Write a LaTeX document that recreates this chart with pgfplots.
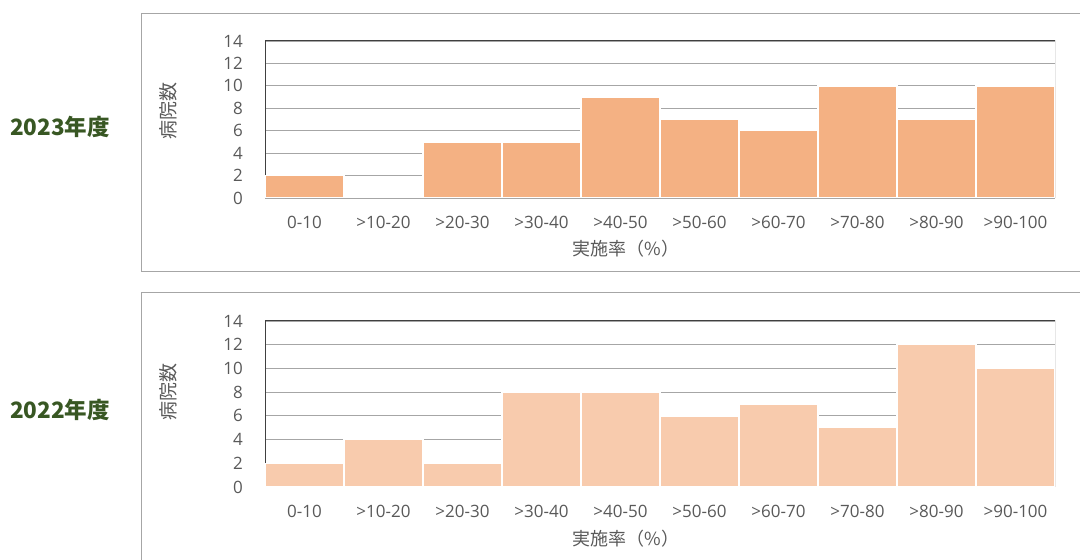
\documentclass[border=0pt]{standalone}
\usepackage{fontspec}
\setmainfont{Open Sans}
\newfontfamily\jp{Noto Sans CJK JP}
\usepackage{pgfplots}
\pgfplotsset{compat=1.18}
\definecolor{txt}{HTML}{595959}
\definecolor{barA}{HTML}{F4B183}
\definecolor{barB}{HTML}{F8CBAD}
\definecolor{grn}{HTML}{385723}
\definecolor{gridc}{HTML}{A6A6A6}
\definecolor{framec}{HTML}{404040}
\definecolor{basec}{HTML}{D9D9D9}
\definecolor{boxc}{HTML}{A6A6A6}
\pgfplotsset{
  hist/.style={
    scale only axis, width=790pt, anchor=south west,
    xmin=-0.5, xmax=9.5, ymin=0, ymax=14,
    ytick={0,2,...,14}, xtick={0,...,9},
    xticklabels={0-10,>10-20,>20-30,>30-40,>40-50,>50-60,>60-70,>70-80,>80-90,>90-100},
    axis line style={draw=none},
    major tick length=0pt,
    ymajorgrids, grid style={gridc, line width=0.8pt},
    /pgf/number format/assume math mode=true,
    ticklabel style={font=\fontsize{17}{19}\selectfont, text=txt},
    yticklabel style={anchor=east, inner sep=0pt, xshift=-22pt},
    xticklabel style={anchor=center, inner sep=0pt, yshift=-24pt},
    ybar, bar width=1, bar shift=0pt,
  }
}
\begin{document}
\begin{tikzpicture}
\useasboundingbox (0pt,0pt) rectangle (1080pt,560pt);
\draw[boxc, line width=1pt] (141pt,288pt) rectangle (1100pt,546pt);
\draw[boxc, line width=1pt] (141pt,-20pt) rectangle (1100pt,267pt);
\node[text=grn, font=\jp\bfseries\fontsize{22.5}{25}\selectfont] at (60pt,433pt) {2023年度};
\node[text=grn, font=\jp\bfseries\fontsize{22.5}{25}\selectfont] at (60pt,150pt) {2022年度};
\node[text=txt, font=\jp\fontsize{19}{21}\selectfont, rotate=90] at (168pt,449pt) {病院数};
\node[text=txt, font=\jp\fontsize{19}{21}\selectfont, rotate=90] at (168pt,168pt) {病院数};
\node[text=txt, font=\jp\fontsize{18}{20}\selectfont] at (626pt,311pt) {実施率（\%）};
\node[text=txt, font=\jp\fontsize{18}{20}\selectfont] at (626pt,21pt) {実施率（\%）};

\begin{axis}[hist, height=157pt, at={(265pt,362pt)}]
\draw[framec, line width=1pt] (rel axis cs:0,0) -- (rel axis cs:0,1) -- (rel axis cs:1,1) -- (rel axis cs:1,0);
\draw[basec, line width=1.2pt] (rel axis cs:0,0) -- (rel axis cs:1,0);
\addplot[fill=barA, draw=white, line width=1.5pt] coordinates {(0,2) (1,0) (2,5) (3,5) (4,9) (5,7) (6,6) (7,10) (8,7) (9,10)};
\end{axis}

\begin{axis}[hist, height=166pt, at={(265pt,73pt)}]
\draw[framec, line width=1pt] (rel axis cs:0,0) -- (rel axis cs:0,1) -- (rel axis cs:1,1) -- (rel axis cs:1,0);
\draw[basec, line width=1.2pt] (rel axis cs:0,0) -- (rel axis cs:1,0);
\addplot[fill=barB, draw=white, line width=1.5pt] coordinates {(0,2) (1,4) (2,2) (3,8) (4,8) (5,6) (6,7) (7,5) (8,12) (9,10)};
\end{axis}
\end{tikzpicture}
\end{document}
